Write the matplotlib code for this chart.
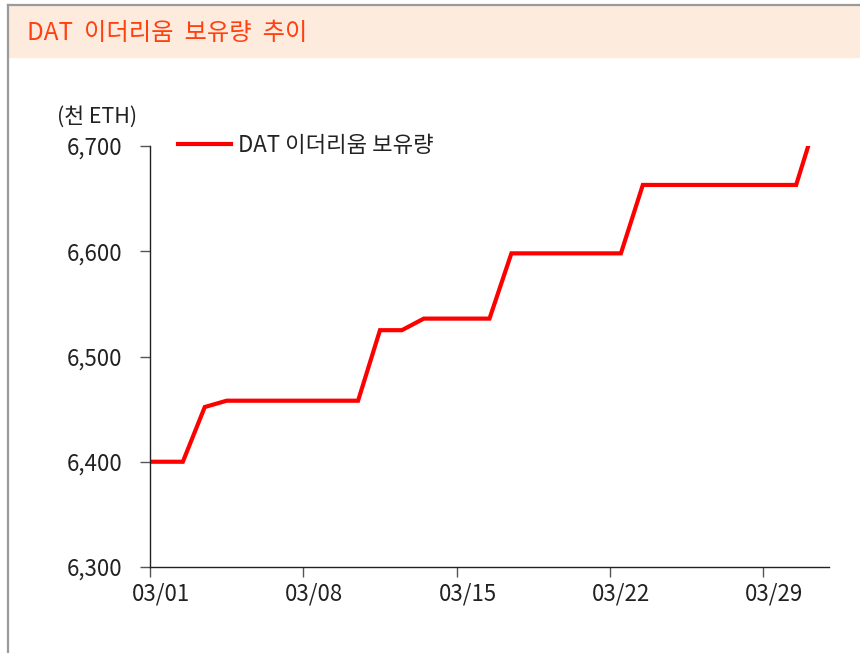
import numpy as np
import matplotlib
matplotlib.use('Agg')
import matplotlib.pyplot as plt
from matplotlib.patches import Rectangle
from matplotlib.lines import Line2D

plt.rcParams['font.family'] = ['Noto Sans CJK KR', 'DejaVu Sans']

# daily holdings (thousand ETH), 02/28 .. 03/31
dates = ['02/28', '03/01', '03/02', '03/03', '03/04', '03/05', '03/06', '03/07', '03/08',
         '03/09', '03/10', '03/11', '03/12', '03/13', '03/14', '03/15', '03/16', '03/17',
         '03/18', '03/19', '03/20', '03/21', '03/22', '03/23', '03/24', '03/25', '03/26',
         '03/27', '03/28', '03/29', '03/30', '03/31']
holdings = [6400, 6400, 6400, 6452, 6458, 6458, 6458, 6458, 6458,
            6458, 6458, 6525, 6525, 6536, 6536, 6536, 6536, 6598,
            6598, 6598, 6598, 6598, 6598, 6663, 6663, 6663, 6663,
            6663, 6663, 6663, 6663, 6730]
xtick_labels = ['03/01', '03/08', '03/15', '03/22', '03/29']
yticks = [6300, 6400, 6500, 6600, 6700]
ytick_labels = ['6,300', '6,400', '6,500', '6,600', '6,700']

W, H = 860, 653
fig = plt.figure(figsize=(W / 100, H / 100), dpi=100)

# header band + frame lines
fig.patches.append(Rectangle((8 / W, 1 - 57 / H), 1 - 8 / W, 51 / H,
                             transform=fig.transFigure, color='#FDEBDD', zorder=0))
fig.lines.append(Line2D([8 / W, 1], [1 - 5 / H, 1 - 5 / H], transform=fig.transFigure,
                        color='#9A9A9A', lw=1.6))
fig.lines.append(Line2D([8 / W, 8 / W], [0, 1 - 5 / H], transform=fig.transFigure,
                        color='#9A9A9A', lw=1.6))
fig.text(27 / W, 1 - 33 / H, 'DAT  이더리움  보유량  추이', color='#FF4010',
         fontsize=17.5, ha='left', va='center')

ax = fig.add_axes([150 / W, 1 - 567 / H, (829 - 150) / W, (567 - 146) / H])
x = np.arange(len(dates)) - 1
ax.plot(x, holdings, color='#FF0000', lw=3, label='DAT 이더리움 보유량',
        solid_joinstyle='miter')

ax.set_xlim(-0.5, 30.5)
ax.set_ylim(6300, 6700)

pos = [dates.index(d) - 1 for d in xtick_labels]
ax.set_xticks([p - 0.5 for p in pos])
ax.set_xticklabels([])
ax.set_xticks(pos, minor=True)
ax.set_xticklabels(xtick_labels, minor=True)
ax.tick_params(axis='x', which='major', direction='out', length=7, width=1, color='#555555')
ax.tick_params(axis='x', which='minor', length=0, pad=11, labelsize=16, labelcolor='#222222')

ax.set_yticks(yticks)
ax.set_yticklabels(ytick_labels)
ax.tick_params(axis='y', direction='out', length=7, width=1, color='#555555',
               pad=13, labelsize=16, labelcolor='#222222')

for s in ['top', 'right']:
    ax.spines[s].set_visible(False)
for s in ['left', 'bottom']:
    ax.spines[s].set_color('#222222')
    ax.spines[s].set_linewidth(1)

fig.text(97 / W, 1 - 117 / H, '(천 ETH)', fontsize=15.5, color='#222222',
         ha='center', va='center')

ax.legend(loc='center left', bbox_to_anchor=(178 / W, 1 - 145 / H),
          bbox_transform=fig.transFigure, frameon=False, fontsize=16,
          handlelength=2.4, handletextpad=0.3, borderpad=0, borderaxespad=0,
          labelcolor='#222222')

plt.savefig('out.png', dpi=100)
